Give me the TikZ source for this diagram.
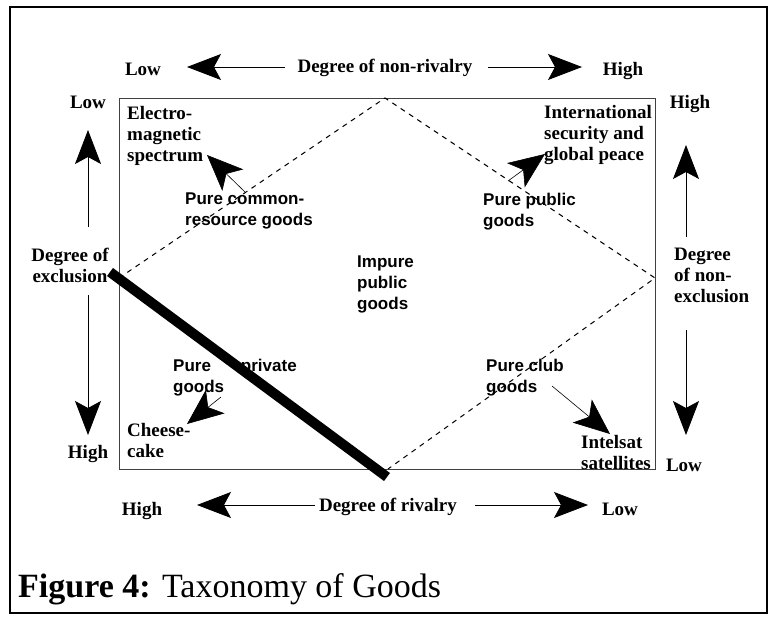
\documentclass[tikz,border=0pt]{standalone}
\usepackage{fontspec}
\setmainfont{Liberation Serif}
\newfontfamily\sansb{Liberation Sans}
\usetikzlibrary{arrows.meta}
\tikzset{
  lbl/.style={font=\fontsize{19}{21}\selectfont\bfseries, inner sep=0pt, align=left},
  clbl/.style={font=\fontsize{19}{21}\selectfont\bfseries, inner sep=0pt, align=center},
  slbl/.style={font=\sansb\fontsize{17}{21}\selectfont\bfseries, inner sep=0pt, align=left},
  bigarrow/.style={line width=0.8pt, -{Stealth[length=34pt,width=26pt,inset=7pt]}},
  smallarrow/.style={line width=0.6pt, -{Stealth[length=36pt,width=30pt,inset=9pt]}},
  diam/.style={line width=1pt, dash pattern=on 5pt off 5pt},
}
\begin{document}
\begin{tikzpicture}[x=1pt,y=-1pt]
\useasboundingbox (0,0) rectangle (769,618);
% frames
\draw[line width=2.5pt] (10,7) rectangle (767,613);
\draw[line width=0.9pt, black!75] (119,98) rectangle (655,469);
% diamond (lower-left side is covered by the thick divider)
\coordinate (dL) at (119,278);
\coordinate (dT) at (385,98);
\coordinate (dR) at (655,278);
\coordinate (dB) at (388,469);
\draw[diam] (dL) -- (dT) -- (dR) -- (dB);

% top axis
\node[lbl, anchor=base] (tLow) at (143,76) {Low};
\node[lbl, anchor=base] (tHigh) at (623,76) {High};
\node[lbl, anchor=base] (tDeg) at (385,73) {Degree of non-rivalry};
\coordinate (t1) at (285,67); \coordinate (t0) at (187,67);
\coordinate (t2) at (488,67); \coordinate (t3) at (582,67);
\draw[bigarrow] (t1) -- (t0);
\draw[bigarrow] (t2) -- (t3);

% bottom axis
\node[lbl, anchor=base] (bHigh) at (142,515) {High};
\node[lbl, anchor=base] (bLow) at (620,515) {Low};
\node[lbl, anchor=base] (bDeg) at (388,511) {Degree of rivalry};
\coordinate (b1) at (315,505); \coordinate (b0) at (197,505);
\coordinate (b2) at (475,505); \coordinate (b3) at (588,505);
\draw[bigarrow] (b1) -- (b0);
\draw[bigarrow] (b2) -- (b3);

% left axis
\node[lbl, anchor=base] (lLow) at (88,109) {Low};
\node[lbl, anchor=base] (lHigh) at (88,458) {High};
\node[clbl, anchor=north] (lDeg) at (70,248) {Degree of\\exclusion};
\coordinate (l1) at (88,227); \coordinate (l0) at (88,130);
\coordinate (l2) at (88,295); \coordinate (l3) at (88,435);
\draw[bigarrow] (l1) -- (l0);
\draw[bigarrow] (l2) -- (l3);

% right axis
\node[lbl, anchor=base] (rHigh) at (690,109) {High};
\node[lbl, anchor=base] (rLow) at (684,471) {Low};
\node[lbl, anchor=north west] (rDeg) at (674,248) {Degree\\of non-\\exclusion};
\coordinate (r1) at (686,237); \coordinate (r0) at (686,145);
\coordinate (r2) at (686,330); \coordinate (r3) at (686,435);
\draw[bigarrow] (r1) -- (r0);
\draw[bigarrow] (r2) -- (r3);

% inner labels
\node[lbl, anchor=north west] (elec) at (127,106) {Electro-\\magnetic\\spectrum};
\node[lbl, anchor=north west] (intl) at (544,105) {International\\security and\\global peace};
\node[lbl, anchor=north west] (chz) at (127,423) {Cheese-\\cake};
\node[lbl, anchor=north west] (intel) at (581,435) {Intelsat\\satellites};
\node[slbl, anchor=north west] (pcr) at (185,193) {Pure common-\\resource goods};
\node[slbl, anchor=north west] (ppub) at (483,193) {Pure public\\goods};
\node[slbl, anchor=north west] (imp) at (357,256) {Impure\\public\\goods};
\node[slbl, anchor=north west] (ppriv) at (173,359) {Pure\hspace{30pt}private\\goods};
\node[slbl, anchor=north west] (club) at (486,359) {Pure club\\goods};

% inner arrows
\coordinate (a1s) at (245,192); \coordinate (a1e) at (207,155);
\coordinate (a2s) at (508,181); \coordinate (a2e) at (545,154);
\coordinate (a3s) at (221,397); \coordinate (a3e) at (187,424);
\coordinate (a4s) at (552,386); \coordinate (a4e) at (610,434);
\draw[smallarrow] (a1s) -- (a1e);
\draw[smallarrow] (a2s) -- (a2e);
\draw[smallarrow] (a3s) -- (a3e);
\draw[smallarrow] (a4s) -- (a4e);

% thick divider
\coordinate (k0) at (110,272); \coordinate (k1) at (387,477);
\draw[line width=10pt] (k0) -- (k1);

% caption
\node[inner sep=0pt, anchor=base west, font=\fontsize{34}{37}\selectfont] (cap) at (18,597) {\textbf{Figure 4:} Taxonomy of Goods};
\end{tikzpicture}
\end{document}
